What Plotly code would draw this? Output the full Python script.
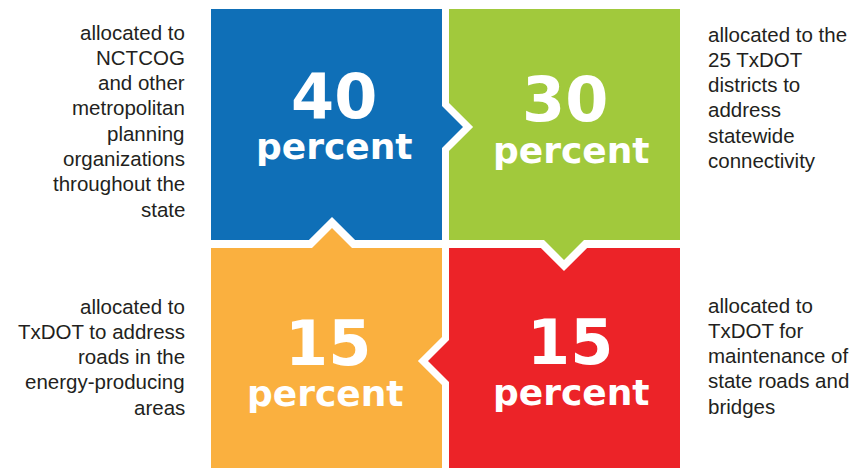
import math
import plotly.graph_objects as go

# ---- data ----
percent_values = [40, 30, 15, 15]
unit_label = "percent"
quadrants = ["top-left", "top-right", "bottom-left", "bottom-right"]
descriptions = [
    ["allocated to", "NCTCOG", "and other", "metropolitan", "planning",
     "organizations", "throughout the", "state"],
    ["allocated to the", "25 TxDOT", "districts to", "address", "statewide",
     "connectivity"],
    ["allocated to", "TxDOT to address", "roads in the", "energy-producing", "areas"],
    ["allocated to", "TxDOT for", "maintenance of", "state roads and", "bridges"],
]
colors = ["#0F6FB7", "#A1C93C", "#FAB03F", "#EC2328"]

# ---- geometry (pixel space, y downward) ----
L, XM1, XM2, R = 211, 442, 449, 680
T, YM1, YM2, B = 9, 240, 248, 470
g = 7.5
k = math.sqrt(2) - 1


def path(pts):
    return "M" + " L".join(f"{x:.1f},{y:.1f}" for x, y in pts) + " Z"

d = 21
n = lambda dd: dd + g * k  # notch half-width/depth

blue = [(L, T), (XM1, T), (XM1, 127 - d), (XM1 + d, 127), (XM1, 127 + d), (XM1, YM1),
        (332 + n(20), YM1), (332, YM1 - n(20)), (332 - n(20), YM1), (L, YM1)]
green = [(XM2, T), (R, T), (R, YM1), (564 + 20, YM1), (564, YM1 + 20), (564 - 20, YM1),
         (XM2, YM1), (XM2, 127 + n(d)), (XM2 + n(d), 127), (XM2, 127 - n(d))]
orange = [(L, YM2), (332 - 20, YM2), (332, YM2 - 20), (332 + 20, YM2), (XM1, YM2),
          (XM1, 361 - n(d)), (XM1 - n(d), 361), (XM1, 361 + n(d)), (XM1, B), (L, B)]
red = [(XM2, YM2), (564 - n(20), YM2), (564, YM2 + n(20)), (564 + n(20), YM2), (R, YM2),
       (R, B), (XM2, B), (XM2, 361 + d), (XM2 - d, 361), (XM2, 361 - d)]
polys = [blue, green, orange, red]

fig = go.Figure()
fig.add_trace(go.Scatter(x=[0, 864], y=[0, 468], mode="markers",
                         marker=dict(opacity=0), hoverinfo="skip", showlegend=False))

for pts, c in zip(polys, colors):
    fig.add_shape(type="path", path=path(pts), fillcolor=c,
                  line=dict(width=0), layer="below")

num_pos = [(334, 96), (565, 99), (328, 343), (570, 342)]
pct_pos = [(334, 146), (571, 150), (325, 393), (571, 392)]
for v, (nx, ny), (px, py) in zip(percent_values, num_pos, pct_pos):
    fig.add_annotation(x=nx, y=ny, text=str(v), showarrow=False,
                       xanchor="center", yanchor="middle",
                       font=dict(family="DejaVu Sans", size=62, color="white", weight="bold"))
    fig.add_annotation(x=px, y=py, text=unit_label, showarrow=False,
                       xanchor="center", yanchor="middle",
                       font=dict(family="DejaVu Sans", size=36, color="white", weight="bold"))

desc_x = [187, 706, 187, 706]
desc_anchor = ["right", "left", "right", "left"]
desc_top = [32, 34, 306, 305]
spacing = 25.3
for lines, x, anc, top in zip(descriptions, desc_x, desc_anchor, desc_top):
    for i, line in enumerate(lines):
        fig.add_annotation(x=x, y=top + i * spacing, text=line, showarrow=False,
                           xanchor=anc, yanchor="middle",
                           font=dict(family="Liberation Sans", size=20.5, color="#231F20"))

fig.update_layout(
    width=864, height=468, margin=dict(l=0, r=0, t=0, b=0),
    paper_bgcolor="white", plot_bgcolor="white",
    xaxis=dict(range=[0, 864], visible=False, fixedrange=True),
    yaxis=dict(range=[468, 0], visible=False, fixedrange=True),
    showlegend=False,
)
fig.write_html("out.html", config={"displayModeBar": False},
               post_script="document.body.style.margin='0';document.body.style.overflow='hidden';")
